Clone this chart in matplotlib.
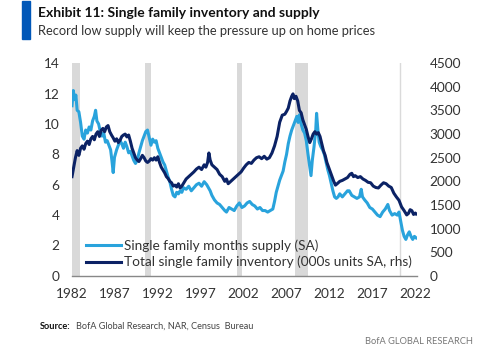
import matplotlib
matplotlib.use('Agg')
import matplotlib.pyplot as plt
from matplotlib.patches import Rectangle

plt.rcParams['font.family'] = ['Lato', 'DejaVu Sans']

# months supply (lhs)
supply_year = [1982.0, 1982.15, 1982.3, 1982.45, 1982.6, 1982.8, 1983.0, 1983.2, 1983.4, 1983.6, 1983.8,
               1984.0, 1984.2, 1984.4, 1984.6, 1984.75, 1984.9, 1985.1, 1985.3, 1985.5, 1985.7, 1985.9,
               1986.1, 1986.3, 1986.5, 1986.65, 1986.8, 1986.95, 1987.2, 1987.4, 1987.6, 1987.8,
               1988.0, 1988.2, 1988.4, 1988.6, 1988.8, 1989.0, 1989.2, 1989.4, 1989.6, 1989.8,
               1990.0, 1990.2, 1990.4, 1990.6, 1990.8, 1991.0, 1991.2, 1991.4, 1991.6, 1991.8,
               1992.0, 1992.2, 1992.4, 1992.6, 1992.8, 1993.0, 1993.2, 1993.4, 1993.6, 1993.8,
               1994.0, 1994.2, 1994.4, 1994.6, 1994.8, 1995.0, 1995.3, 1995.6, 1995.9, 1996.2,
               1996.5, 1996.8, 1997.1, 1997.4, 1997.7, 1997.9, 1998.1, 1998.3, 1998.6, 1998.9,
               1999.2, 1999.5, 1999.8, 2000.0, 2000.3, 2000.6, 2000.9, 2001.2, 2001.5, 2001.8,
               2002.1, 2002.4, 2002.7, 2003.0, 2003.3, 2003.6, 2003.9, 2004.2, 2004.5, 2004.8,
               2005.1, 2005.4, 2005.6, 2005.8, 2006.0, 2006.2, 2006.4, 2006.6, 2006.8, 2007.0,
               2007.2, 2007.4, 2007.6, 2007.8, 2008.0, 2008.2, 2008.35, 2008.5, 2008.7, 2008.9,
               2009.1, 2009.3, 2009.5, 2009.7, 2009.85, 2010.0, 2010.2, 2010.4, 2010.5, 2010.65,
               2010.8, 2011.0, 2011.2, 2011.4, 2011.6, 2011.8, 2012.0, 2012.2, 2012.4, 2012.6,
               2012.8, 2013.0, 2013.2, 2013.5, 2013.8, 2014.1, 2014.3, 2014.6, 2014.9, 2015.2,
               2015.5, 2015.7, 2015.85, 2016.1, 2016.4, 2016.7, 2017.0, 2017.3, 2017.6, 2017.9,
               2018.2, 2018.5, 2018.8, 2019.0, 2019.3, 2019.6, 2019.9, 2020.1, 2020.3, 2020.5,
               2020.7, 2020.9, 2021.1, 2021.3, 2021.5, 2021.7, 2021.9, 2022.1]
supply_val = [11.2, 12.2, 11.6, 11.9, 10.9, 10.8, 10.1, 9.2, 9.0, 9.6, 9.4,
              9.8, 9.6, 10.2, 10.5, 10.9, 10.2, 10.0, 9.5, 9.2, 9.4, 8.8,
              8.9, 8.6, 8.3, 7.6, 6.8, 7.8, 8.3, 8.6, 8.9, 8.7,
              8.4, 8.8, 8.5, 8.1, 8.2, 7.9, 7.6, 7.4, 7.6, 8.1,
              8.5, 8.9, 9.2, 9.5, 9.6, 9.1, 8.6, 9.0, 8.8, 8.9,
              8.4, 8.1, 7.8, 7.5, 7.3, 6.9, 6.5, 6.2, 5.7, 5.3,
              5.2, 5.5, 5.4, 5.6, 5.5, 5.8, 5.7, 5.9, 5.6, 5.8,
              6.0, 6.1, 5.9, 6.2, 6.0, 5.8, 5.6, 5.3, 5.0, 4.8,
              4.7, 4.5, 4.3, 4.2, 4.5, 4.4, 4.3, 4.6, 4.8, 4.5,
              4.6, 4.8, 4.9, 4.7, 4.6, 4.4, 4.5, 4.3, 4.3, 4.2,
              4.3, 4.4, 4.9, 5.5, 5.9, 6.3, 6.6, 6.9, 7.5, 8.0,
              8.7, 9.2, 9.6, 9.9, 10.2, 10.5, 10.1, 10.6, 10.0, 9.6,
              9.4, 8.9, 8.0, 7.2, 6.6, 7.6, 8.5, 9.6, 10.7, 9.6,
              8.8, 8.5, 8.3, 8.0, 7.5, 7.0, 6.6, 6.1, 5.6, 5.2,
              5.1, 5.2, 5.4, 5.2, 5.4, 5.6, 5.6, 5.3, 5.2, 5.1,
              5.2, 5.7, 5.2, 5.0, 4.8, 4.5, 4.4, 4.2, 4.0, 3.9,
              4.2, 4.4, 4.7, 4.3, 4.0, 4.1, 4.0, 4.2, 3.6, 3.0,
              2.6, 2.4, 2.7, 2.9, 2.6, 2.4, 2.6, 2.5]

# total inventory, 000s (rhs)
inv_year = [1982.0, 1982.2, 1982.4, 1982.6, 1982.8, 1983.0, 1983.2, 1983.4, 1983.6, 1983.8,
            1984.0, 1984.2, 1984.4, 1984.6, 1984.8, 1985.0, 1985.2, 1985.4, 1985.6, 1985.8,
            1986.0, 1986.2, 1986.4, 1986.6, 1986.8, 1987.0, 1987.2, 1987.4, 1987.6, 1987.8,
            1988.0, 1988.2, 1988.4, 1988.6, 1988.8, 1989.0, 1989.2, 1989.4, 1989.6, 1989.8,
            1990.0, 1990.2, 1990.4, 1990.6, 1990.8, 1991.0, 1991.2, 1991.4, 1991.6, 1991.8,
            1992.0, 1992.2, 1992.4, 1992.6, 1992.8, 1993.0, 1993.2, 1993.4, 1993.6, 1993.8,
            1994.0, 1994.2, 1994.4, 1994.6, 1994.8, 1995.0, 1995.3, 1995.6, 1995.9, 1996.2,
            1996.5, 1996.8, 1997.1, 1997.4, 1997.6, 1997.8, 1997.95, 1998.1, 1998.3, 1998.6,
            1998.9, 1999.2, 1999.5, 1999.8, 2000.0, 2000.2, 2000.5, 2000.8, 2001.1, 2001.4,
            2001.7, 2002.0, 2002.3, 2002.6, 2002.9, 2003.2, 2003.5, 2003.8, 2004.1, 2004.4,
            2004.7, 2005.0, 2005.3, 2005.6, 2005.9, 2006.2, 2006.5, 2006.8, 2007.0, 2007.2,
            2007.4, 2007.6, 2007.75, 2007.9, 2008.1, 2008.3, 2008.5, 2008.7, 2008.9, 2009.1,
            2009.3, 2009.5, 2009.7, 2009.9, 2010.1, 2010.3, 2010.5, 2010.7, 2010.9, 2011.1,
            2011.3, 2011.5, 2011.7, 2011.9, 2012.1, 2012.3, 2012.5, 2012.7, 2012.9, 2013.2,
            2013.5, 2013.8, 2014.1, 2014.4, 2014.6, 2014.8, 2015.0, 2015.3, 2015.6, 2015.9,
            2016.2, 2016.5, 2016.8, 2017.1, 2017.4, 2017.7, 2018.0, 2018.3, 2018.6, 2018.9,
            2019.2, 2019.5, 2019.8, 2020.1, 2020.4, 2020.7, 2021.0, 2021.2, 2021.4, 2021.6,
            2021.8, 2022.0, 2022.1]
inv_val = [2100, 2300, 2500, 2650, 2550, 2700, 2750, 2680, 2800, 2850,
           2780, 2900, 2950, 2880, 3000, 3050, 2950, 3080, 3120, 3050,
           3150, 3180, 3050, 2980, 2920, 2850, 2900, 2820, 2870, 2950,
           2980, 3000, 2940, 2980, 2850, 2700, 2600, 2500, 2450, 2420,
           2480, 2550, 2500, 2430, 2400, 2430, 2480, 2450, 2500, 2450,
           2520, 2400, 2300, 2240, 2180, 2100, 2060, 2000, 1970, 1900,
           1920, 1880, 1950, 1860, 1900, 1960, 2050, 2100, 2150, 2200,
           2260, 2300, 2250, 2350, 2300, 2400, 2600, 2450, 2350, 2300,
           2250, 2150, 2100, 2000, 2050, 1950, 2000, 2050, 2100, 2150,
           2200, 2280, 2350, 2400, 2380, 2450, 2500, 2520, 2480, 2530,
           2470, 2500, 2600, 2750, 2950, 3250, 3400, 3420, 3480, 3550,
           3700, 3800, 3850, 3750, 3800, 3700, 3500, 3450, 3300, 3200,
           3100, 2950, 2820, 2900, 3000, 3050, 3000, 3030, 2950, 2800,
           2650, 2550, 2400, 2300, 2200, 2100, 2000, 1920, 1950, 2000,
           2020, 2050, 2080, 2150, 2170, 2100, 2120, 2080, 2100, 2050,
           2020, 1980, 1970, 1900, 1870, 1860, 1920, 1970, 1950, 1900,
           1870, 1750, 1670, 1600, 1460, 1380, 1290, 1320, 1400, 1380,
           1300, 1330, 1310]

# recessions (start, end)
rec_start = [1981.9, 1990.5, 2001.2, 2007.95, 2020.1]
rec_end = [1982.9, 1991.2, 2001.85, 2009.5, 2020.3]

years = [1982, 1987, 1992, 1997, 2002, 2007, 2012, 2017, 2022]

light = '#29A3DC'
navy = '#0B2265'
txt = '#333333'

fig = plt.figure(figsize=(5, 3.51), dpi=100)
ax = fig.add_axes([0.144, 0.214, 0.69, 0.606])
ax2 = ax.twinx()

for s, e in zip(rec_start, rec_end):
    if e - s < 0.3:
        ax.axvline(s + 0.1, color='#DADADA', lw=1, zorder=0)
    else:
        ax.axvspan(s, e, color='#D9D9D9', lw=0, zorder=0)

l1, = ax.plot(supply_year, supply_val, color=light, lw=2.2, label='Single family months supply (SA)')
l2, = ax2.plot(inv_year, inv_val, color=navy, lw=2.2,
               label='Total single family inventory (000s units SA, rhs)')

ax.set_xlim(1982, 2022.2)
ax.set_ylim(0, 14)
ax2.set_ylim(0, 4500)
ax.set_yticks(range(0, 15, 2))
ax2.set_yticks(range(0, 4501, 500))
ax.set_xticks(years)

for a in (ax, ax2):
    for sp in a.spines.values():
        sp.set_visible(False)
    a.tick_params(length=0, labelsize=9.8, colors=txt, pad=9)
ax.spines['bottom'].set_visible(True)
ax.spines['bottom'].set_color('#888888')
ax.spines['bottom'].set_linewidth(1)
ax.tick_params(axis='x', pad=9)

leg = ax.legend(handles=[l1, l2], loc='lower left', bbox_to_anchor=(0.012, -0.01), frameon=False,
                fontsize=9.8, handlelength=2.6, handletextpad=0.2, labelspacing=0.28,
                borderaxespad=0.3)
for t in leg.get_texts():
    t.set_color(txt)

# header
fig.patches.append(Rectangle((0.044, 0.889), 0.016, 0.108, transform=fig.transFigure,
                             color='#0057B8', zorder=5))
fig.text(0.076, 0.962, 'Exhibit 11: Single family inventory and supply', fontsize=10,
         fontweight='bold', color='#111111', va='center')
fig.text(0.076, 0.912, 'Record low supply will keep the pressure up on home prices',
         fontsize=9.3, color=txt, va='center')

fig.text(0.08, 0.071, 'Source:', fontsize=6.7, fontweight='bold', color='#111111', va='center')
fig.text(0.153, 0.071, 'BofA Global Research, NAR, Census  Bureau', fontsize=6.6,
         color='#444444', va='center')
fig.text(0.946, 0.028, 'BofA GLOBAL RESEARCH', fontsize=6.7, color='#777777',
         va='center', ha='right')

fig.savefig('out.png', dpi=100)
